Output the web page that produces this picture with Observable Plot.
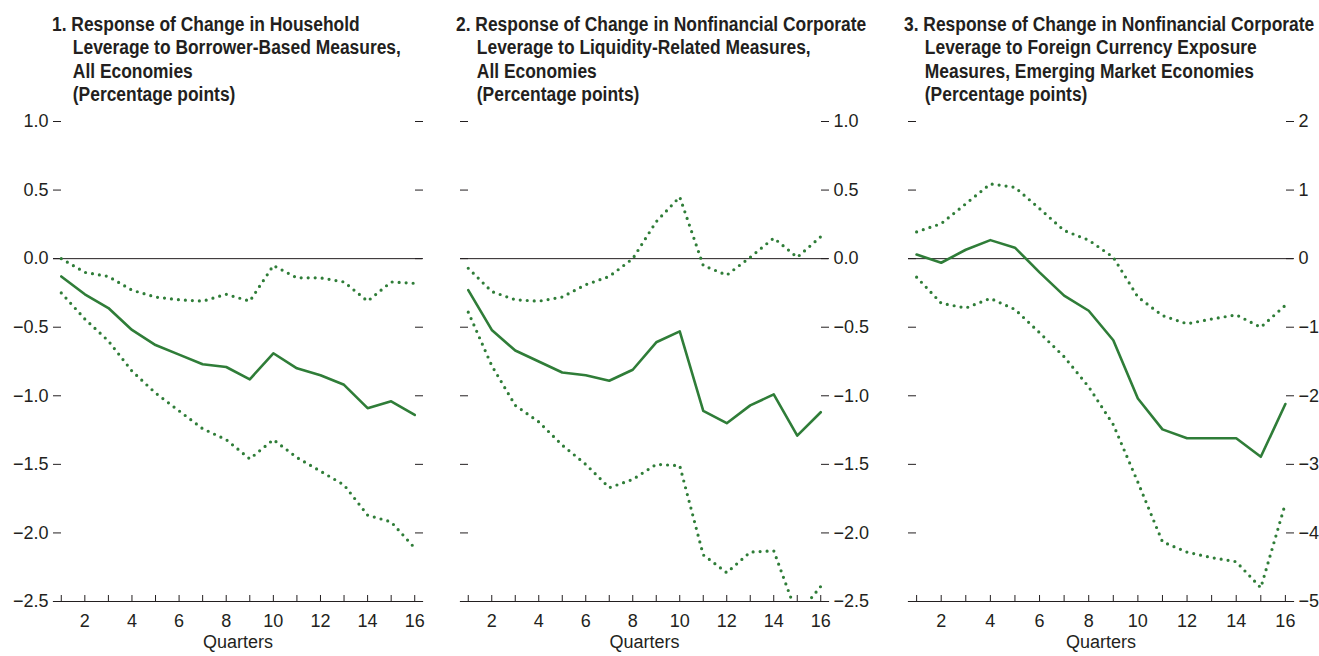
<!DOCTYPE html>
<html><head><meta charset="utf-8">
<script src="https://cdn.jsdelivr.net/npm/d3@7"></script>
<script src="https://cdn.jsdelivr.net/npm/@observablehq/plot@0.6"></script>
<style>
html,body{margin:0;padding:0;background:#fff;}
#chart{position:relative;width:1319px;height:656px;overflow:hidden;font-family:"Liberation Sans",Arial,sans-serif;color:#231f20;}
.title{position:absolute;top:12.5px;font-family:"Liberation Sans",Arial,sans-serif;font-weight:bold;font-size:19.5px;line-height:23.6px;white-space:nowrap;padding-left:23.3px;text-indent:-23.3px;transform:scaleX(0.893);transform-origin:0 0;z-index:2;}
.panel{position:absolute;top:110px;z-index:1;}
</style>
</head><body>
<div id="chart"></div>
<script>
// ---- data ----
const quarters = [1,2,3,4,5,6,7,8,9,10,11,12,13,14,15,16];

const titles = [
  ["1. Response of Change in Household", "Leverage to Borrower-Based Measures,", "All Economies", "(Percentage points)"],
  ["2. Response of Change in Nonfinancial Corporate", "Leverage to Liquidity-Related Measures,", "All Economies", "(Percentage points)"],
  ["3. Response of Change in Nonfinancial Corporate", "Leverage to Foreign Currency Exposure", "Measures, Emerging Market Economies", "(Percentage points)"]
];
const xLabel = "Quarters";

// Panel 1
const p1Mid   = [-0.13,-0.26,-0.36,-0.52,-0.63,-0.70,-0.77,-0.79,-0.88,-0.69,-0.80,-0.85,-0.92,-1.09,-1.04,-1.14];
const p1Upper = [0.00,-0.10,-0.13,-0.23,-0.28,-0.30,-0.31,-0.26,-0.31,-0.05,-0.14,-0.14,-0.17,-0.31,-0.17,-0.18];
const p1Lower = [-0.25,-0.44,-0.60,-0.82,-0.98,-1.11,-1.24,-1.32,-1.46,-1.32,-1.45,-1.55,-1.65,-1.87,-1.92,-2.11];
const p1Ticks = [-2.5,-2.0,-1.5,-1.0,-0.5,0.0,0.5,1.0];

// Panel 2
const p2Mid   = [-0.23,-0.52,-0.67,-0.75,-0.83,-0.85,-0.89,-0.81,-0.61,-0.53,-1.11,-1.20,-1.07,-0.99,-1.29,-1.12];
const p2Upper = [-0.07,-0.24,-0.30,-0.31,-0.28,-0.19,-0.13,0.00,0.27,0.45,-0.05,-0.12,0.01,0.15,0.01,0.16];
const p2Lower = [-0.39,-0.78,-1.07,-1.19,-1.36,-1.50,-1.67,-1.61,-1.50,-1.51,-2.16,-2.29,-2.14,-2.13,-2.60,-2.39];
const p2Ticks = [-2.5,-2.0,-1.5,-1.0,-0.5,0.0,0.5,1.0];

// Panel 3
const p3Mid   = [0.06,-0.06,0.13,0.27,0.16,-0.20,-0.54,-0.76,-1.19,-2.04,-2.49,-2.62,-2.62,-2.62,-2.89,-2.12];
const p3Upper = [0.39,0.51,0.80,1.09,1.04,0.73,0.41,0.27,0.02,-0.56,-0.83,-0.95,-0.88,-0.82,-1.00,-0.68];
const p3Lower = [-0.27,-0.65,-0.72,-0.58,-0.74,-1.08,-1.43,-1.87,-2.42,-3.26,-4.13,-4.28,-4.36,-4.42,-4.80,-3.57];
const p3Ticks = [-5,-4,-3,-2,-1,0,1,2];

// ---- drawing ----
const green = "#2f7d38";
const ink = "#231f20";
const chart = document.getElementById("chart");

const panels = [
  {left: 0,   width: 440, ml: 53, mr: 18, side: "left",  mid: p1Mid, upper: p1Upper, lower: p1Lower, ticks: p1Ticks, domain: [-2.5, 1], fmt: d3.format(".1f"), titleLeft: 52},
  {left: 440, width: 440, ml: 20, mr: 52, side: "right", mid: p2Mid, upper: p2Upper, lower: p2Lower, ticks: p2Ticks, domain: [-2.5, 1], fmt: d3.format(".1f"), titleLeft: 456},
  {left: 880, width: 439, ml: 28, mr: 26, side: "right", mid: p3Mid, upper: p3Upper, lower: p3Lower, ticks: p3Ticks, domain: [-5, 2], fmt: d3.format("d"), titleLeft: 904}
];

panels.forEach((cfg, k) => {
  const rows = quarters.map((q, i) => ({q, mid: cfg.mid[i], up: cfg.upper[i], lo: cfg.lower[i]}));
  const other = cfg.side === "left" ? "right" : "left";
  const svg = Plot.plot({
    width: cfg.width,
    height: 546,
    marginTop: 11,
    marginBottom: 55,
    marginLeft: cfg.ml,
    marginRight: cfg.mr,
    style: {fontFamily: '"Liberation Sans", Arial, sans-serif', fontSize: "18px", color: ink, background: "transparent", overflow: "visible"},
    x: {domain: [0.67, 16.33]},
    y: {domain: cfg.domain},
    marks: [
      Plot.ruleY([0], {stroke: ink, strokeWidth: 1}),
      Plot.frame({anchor: "bottom", stroke: ink, strokeWidth: 1.2}),
      Plot.axisX({ticks: quarters, tickSize: -6, tickPadding: 19, tickFormat: d => (d % 2 === 0 ? String(d) : ""), label: null, stroke: ink}),
      Plot.axisY({anchor: cfg.side, ticks: cfg.ticks, tickSize: -8, tickPadding: 13, tickFormat: cfg.fmt, label: null, stroke: ink}),
      Plot.axisY({anchor: other, ticks: cfg.ticks, tickSize: -8, tickFormat: () => "", label: null, stroke: ink}),
      Plot.line(rows, {x: "q", y: "up", stroke: green, strokeWidth: 3.2, strokeDasharray: "0 7", strokeLinecap: "round", clip: true}),
      Plot.line(rows, {x: "q", y: "lo", stroke: green, strokeWidth: 3.2, strokeDasharray: "0 7", strokeLinecap: "round", clip: true}),
      Plot.line(rows, {x: "q", y: "mid", stroke: green, strokeWidth: 2.6, clip: true}),
      Plot.text([xLabel], {text: d => d, frameAnchor: "bottom", dy: 46, fontSize: 18, fill: ink})
    ]
  });
  svg.classList.add("panel");
  svg.style.left = cfg.left + "px";
  chart.appendChild(svg);

  const t = document.createElement("div");
  t.className = "title";
  t.style.left = cfg.titleLeft + "px";
  titles[k].forEach((line, j) => {
    if (j) t.appendChild(document.createElement("br"));
    t.appendChild(document.createTextNode(line));
  });
  chart.appendChild(t);
});
</script>
</body></html>
